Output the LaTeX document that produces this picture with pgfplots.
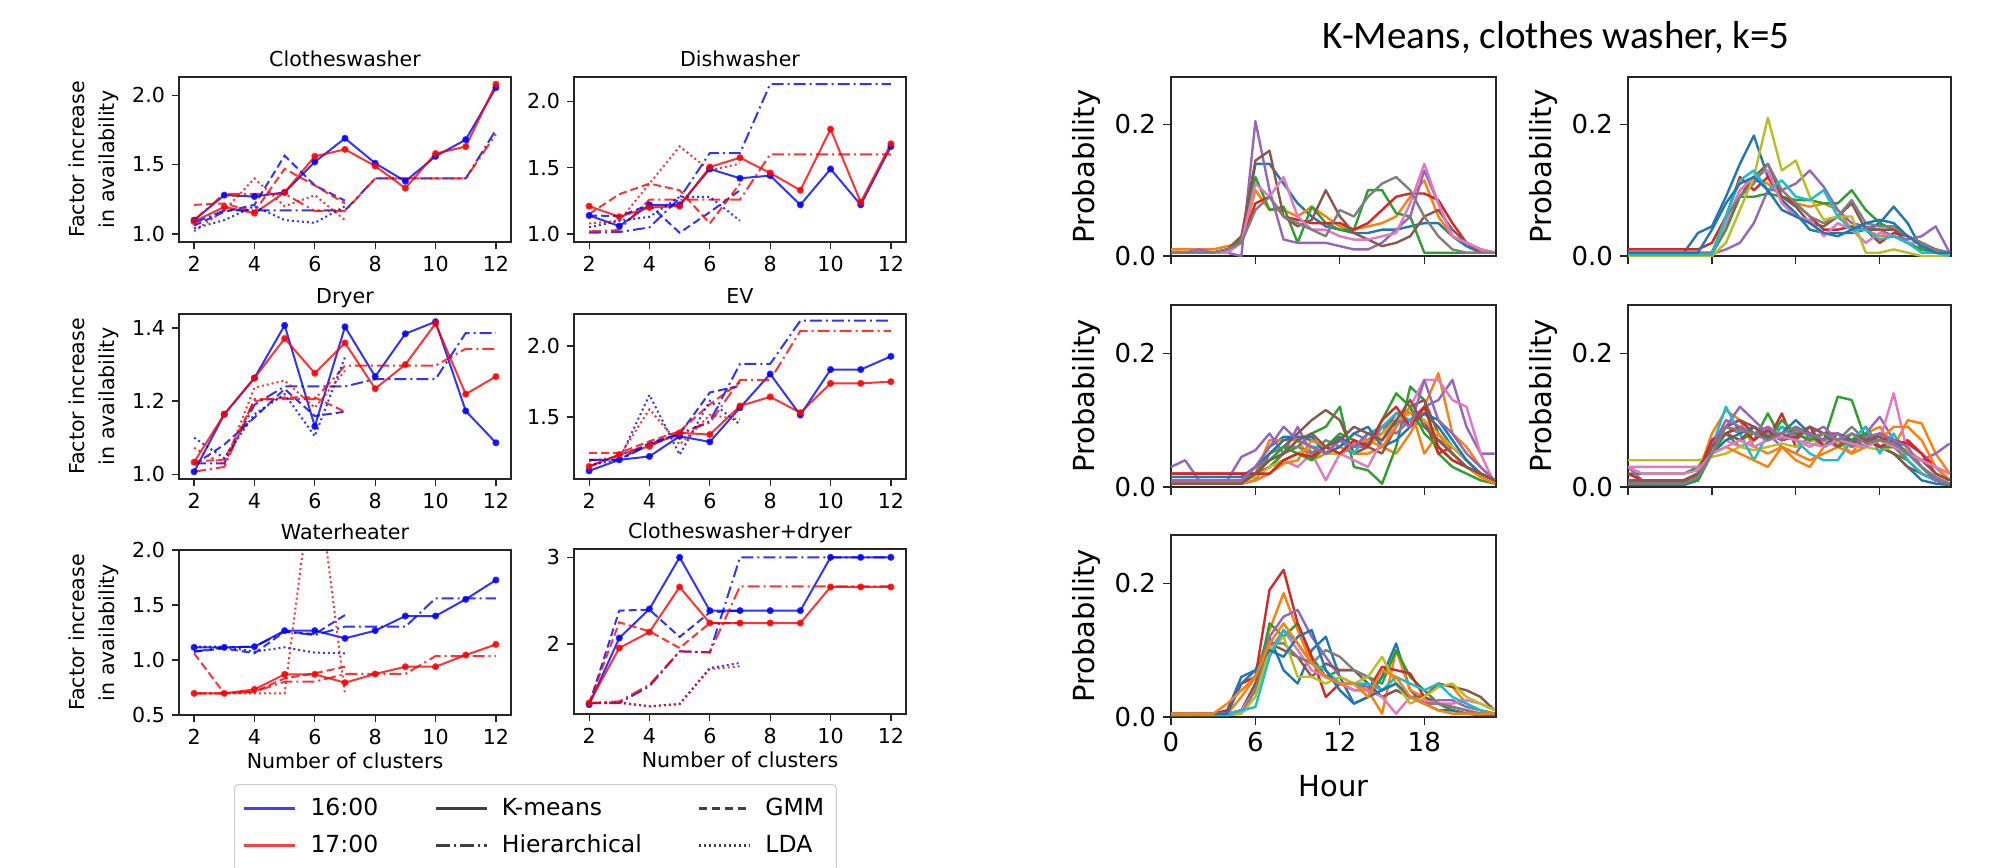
\documentclass[border=0pt]{standalone}
\usepackage{fontspec}
\setmainfont{DejaVu Sans}
\newfontfamily\carlito{Carlito}
\usepackage{pgfplots}
\usepackage{pgfplotstable}
\pgfplotsset{compat=1.18}

\definecolor{tb}{HTML}{1F77B4}
\definecolor{to}{HTML}{FF7F0E}
\definecolor{tg}{HTML}{2CA02C}
\definecolor{tr}{HTML}{D62728}
\definecolor{tp}{HTML}{9467BD}
\definecolor{tbr}{HTML}{8C564B}
\definecolor{tpk}{HTML}{E377C2}
\definecolor{tgy}{HTML}{7F7F7F}
\definecolor{tol}{HTML}{BCBD22}
\definecolor{tc}{HTML}{17BECF}
\pgfplotscreateplotcyclelist{tab}{{tb},{to},{tg},{tr},{tp},{tbr},{tpk},{tgy},{tol},{tc}}

\newcommand\fsz[1]{\fontsize{#1}{#1}\selectfont}

\pgfplotsset{
  mpl/.style={scale only axis, tick align=outside, tick pos=left, major tick length=3.5pt,
    axis line style={black!85, line width=0.6pt}, every tick/.style={black!85, line width=0.6pt},
    /pgf/number format/assume math mode=true},
  lp/.style={mpl, width=166pt, height=82.5pt, xmin=1.5, xmax=12.5, xtick={2,4,...,12},
    tick label style={font=\fsz{10.3}},
    title style={font=\fsz{10.3}, at={(0.5,1)}, anchor=base, yshift=-0.75pt},
    xlabel style={font=\fsz{10.3}, at={(axis description cs:0.5,0)}, anchor=base, yshift=-26.5pt},
    ylabel style={align=center, font=\fontsize{10.3}{15}\selectfont},
    yticklabel style={/pgf/number format/.cd, fixed, fixed zerofill, precision=1}},
  bl/.style={blue, draw opacity=0.8, fill opacity=0.8, line width=1pt},
  rd/.style={red, draw opacity=0.8, fill opacity=0.8, line width=1pt},
  km/.style={solid, mark=*, mark size=1.25pt, mark options={solid}},
  hi/.style={dash pattern=on 6pt off 2pt on 1pt off 2pt},
  gm/.style={dash pattern=on 4pt off 2pt},
  ld/.style={dash pattern=on 1pt off 1.5pt},
  rp/.style={mpl, width=162.5pt, xmin=0, xmax=23.1, ymin=0, ymax=0.272,
    xtick={0,6,12,18}, ytick={0,0.2}, ylabel={Probability}, cycle list name=tab, no markers,
    major tick length=4pt,
    tick label style={font=\fsz{13}}, label style={font=\fsz{14.5}},
    yticklabel style={/pgf/number format/.cd, fixed, fixed zerofill, precision=1},
    every axis plot/.append style={line width=1.2pt, line join=round}},
}

\begin{document}

% cluster profiles, k-means clothes washer, k=5 (hour, one column per household)
\pgfplotstableread{
hr a b c d e f g h
0 .005 .01 .005 .005 .005 .005 .005 .005
1 .005 .01 .005 .005 .005 .005 .005 .005
2 .005 .01 .005 .005 .01 .005 .005 .005
3 .005 .01 .005 .005 .005 .005 .005 .005
4 .01 .015 .01 .01 .005 .01 .005 .01
5 .02 .02 .025 .02 0 .03 .02 .02
6 .14 .10 .12 .08 .205 .145 .11 .07
7 .14 .07 .07 .09 .10 .16 .09 .09
8 .11 .07 .075 .06 .025 .06 .12 .06
9 .08 .06 .02 .055 .02 .045 .06 .05
10 .06 .075 .075 .05 .02 .055 .04 .04
11 .045 .06 .05 .05 .02 .10 .04 .03
12 .04 .045 .04 .05 .015 .06 .03 .07
13 .035 .04 .04 .04 .01 .035 .025 .06
14 .035 .045 .10 .05 .01 .025 .025 .09
15 .04 .05 .10 .07 .02 .015 .03 .11
16 .04 .06 .065 .09 .04 .02 .035 .12
17 .045 .09 .06 .095 .06 .03 .08 .10
18 .05 .115 .005 .095 .13 .06 .14 .06
19 .05 .06 .005 .085 .08 .07 .08 .03
20 .03 .03 .005 .05 .03 .04 .03 .01
21 .015 .02 .005 .02 .02 .02 .02 .005
22 .005 .01 .005 .01 .01 .005 .01 .005
23 .005 .005 .005 .005 .005 .005 .005 .005
}\tRa

\pgfplotstableread{
hr a b c d e f g h i j k
0 .005 .005 .003 .01 .003 .005 .005 .005 0 .002 .005
1 .005 .005 .003 .01 .003 .005 .005 .005 0 .002 .005
2 .005 .005 .003 .01 .003 .005 .005 .005 0 .002 .005
3 .005 .005 .003 .01 .003 .005 .005 .005 0 .002 .005
4 .005 .005 .003 .01 .003 .005 .005 .005 0 .002 .005
5 .035 .005 .003 .01 .003 .005 .005 .005 0 .002 .005
6 .045 .005 .003 .02 .003 .005 .005 .005 0 .002 .04
7 .09 .05 .04 .06 .01 .05 .05 .06 .02 .06 .08
8 .14 .10 .09 .12 .02 .09 .10 .09 .07 .115 .11
9 .183 .115 .09 .10 .05 .12 .12 .11 .12 .13 .12
10 .12 .11 .095 .12 .10 .14 .13 .14 .21 .10 .10
11 .085 .09 .09 .09 .10 .09 .08 .10 .13 .115 .07
12 .065 .08 .085 .08 .11 .075 .06 .08 .145 .09 .06
13 .04 .075 .085 .06 .13 .05 .055 .06 .09 .085 .05
14 .035 .08 .08 .04 .105 .045 .03 .05 .055 .10 .035
15 .035 .07 .08 .04 .07 .06 .05 .06 .06 .06 .03
16 .035 .04 .10 .045 .05 .08 .04 .085 .06 .04 .04
17 .04 .04 .07 .04 .045 .04 .02 .05 .005 .04 .05
18 .05 .03 .05 .02 .04 .04 .035 .045 .005 .025 .055
19 .075 .03 .04 .035 .03 .04 .03 .045 .01 .03 .05
20 .05 .02 .02 .03 .025 .03 .02 .03 .005 .02 .03
21 .01 .01 .01 .02 .03 .02 .02 .02 0 .005 .015
22 .005 .005 .005 .01 .045 .005 .01 .01 0 .005 .005
23 .005 .005 0 .005 .005 .005 .005 .005 0 0 .005
}\tRb

\pgfplotstableread{
hr a b c d e f g h i j k l m n o p
0 .01 .01 .01 .02 .03 .005 .005 .01 .01 .015 .015 .005 .01 .02 .01 .005
1 .01 .01 .01 .02 .04 .005 .005 .01 .01 .015 .015 .005 .01 .02 .01 .005
2 .01 .01 .01 .02 .01 .005 .005 .01 .01 .015 .015 .005 .01 .02 .01 .005
3 .01 .01 .01 .02 .01 .005 .005 .01 .01 .015 .015 .005 .01 .02 .01 .005
4 .01 .01 .01 .02 .01 .005 .005 .01 .01 .015 .015 .005 .01 .02 .01 .005
5 .01 .01 .01 .02 .045 .005 .005 .01 .01 .015 .015 .005 .01 .02 .01 .005
6 .03 .02 .015 .02 .055 .01 .01 .02 .015 .02 .03 .01 .02 .02 .03 .02
7 .06 .07 .03 .03 .08 .05 .02 .05 .03 .04 .05 .02 .04 .02 .06 .04
8 .075 .07 .05 .04 .05 .06 .04 .06 .04 .05 .07 .035 .06 .04 .09 .05
9 .075 .07 .06 .05 .09 .08 .03 .06 .05 .07 .075 .04 .05 .05 .07 .07
10 .07 .04 .08 .06 .05 .10 .05 .05 .06 .06 .075 .07 .04 .045 .06 .08
11 .06 .05 .09 .05 .06 .115 .01 .07 .05 .06 .05 .06 .06 .06 .05 .06
12 .075 .06 .12 .07 .05 .10 .05 .06 .05 .07 .06 .05 .08 .05 .07 .07
13 .06 .05 .03 .06 .06 .05 .04 .08 .07 .05 .08 .065 .07 .07 .06 .09
14 .065 .05 .025 .07 .06 .06 .03 .07 .06 .08 .09 .07 .06 .06 .08 .08
15 .08 .06 .005 .08 .09 .05 .07 .09 .08 .09 .06 .06 .10 .10 .07 .07
16 .095 .05 .06 .11 .08 .09 .09 .10 .10 .11 .07 .09 .14 .12 .10 .10
17 .10 .08 .15 .11 .10 .12 .12 .11 .11 .10 .09 .12 .12 .09 .09 .13
18 .11 .12 .13 .10 .12 .13 .16 .10 .10 .09 .11 .05 .08 .12 .16 .09
19 .09 .17 .05 .05 .13 .08 .16 .07 .08 .07 .10 .08 .06 .06 .10 .07
20 .06 .08 .03 .06 .16 .05 .13 .06 .06 .05 .07 .05 .04 .04 .08 .05
21 .04 .06 .02 .04 .09 .03 .12 .04 .04 .03 .04 .03 .03 .03 .05 .03
22 .02 .03 .01 .02 .05 .02 .05 .02 .02 .02 .02 .015 .02 .02 .03 .02
23 .01 .01 .005 .01 .05 .01 .005 .01 .01 .01 .01 .005 .01 .01 .01 .01
}\tRc

\pgfplotstableread{
hr a b c d e f g h i j k l m n o p q r
0 .005 .01 .02 .01 .03 .005 .03 .01 .04 .005 .003 .005 .005 .02 .005 .01 .03 .005
1 .005 .01 .02 .01 .01 .005 .03 .01 .04 .005 .003 .005 .005 .01 .005 .01 .02 .005
2 .005 .01 .02 .01 .005 .005 .03 .01 .04 .005 .003 .005 .005 .01 .005 .01 .02 .005
3 .005 .01 .02 .01 .005 .005 .03 .01 .04 .005 .003 .005 .005 .01 .005 .01 .02 .005
4 .005 .01 .02 .01 .005 .005 .03 .01 .04 .005 .003 .005 .005 .01 .005 .01 .02 .005
5 .02 .02 .03 .015 .02 .02 .03 .02 .04 .01 .01 .015 .01 .02 .015 .02 .025 .015
6 .06 .08 .06 .06 .06 .07 .05 .07 .045 .06 .05 .05 .05 .07 .06 .06 .05 .05
7 .08 .115 .08 .09 .09 .09 .07 .09 .05 .12 .07 .06 .08 .08 .10 .08 .06 .09
8 .09 .10 .06 .10 .12 .10 .06 .08 .06 .08 .08 .05 .07 .09 .09 .07 .07 .085
9 .08 .06 .07 .08 .10 .09 .07 .09 .055 .04 .09 .04 .08 .07 .08 .09 .06 .08
10 .07 .05 .11 .07 .08 .08 .09 .08 .06 .08 .07 .03 .07 .085 .09 .075 .07 .07
11 .09 .06 .07 .11 .06 .07 .08 .07 .065 .09 .08 .06 .10 .07 .07 .08 .075 .08
12 .08 .04 .08 .06 .05 .09 .07 .08 .06 .07 .10 .05 .08 .075 .085 .07 .07 .09
13 .07 .03 .07 .07 .08 .08 .06 .09 .07 .05 .08 .04 .07 .09 .08 .09 .065 .075
14 .08 .06 .07 .08 .09 .07 .07 .08 .065 .04 .06 .05 .08 .06 .07 .08 .06 .08
15 .07 .07 .135 .08 .07 .06 .06 .07 .065 .04 .08 .06 .06 .07 .08 .06 .07 .07
16 .07 .05 .13 .07 .06 .07 .07 .09 .06 .07 .07 .05 .07 .065 .06 .08 .065 .08
17 .08 .08 .07 .07 .08 .09 .06 .07 .06 .09 .06 .06 .08 .07 .075 .07 .06 .065
18 .06 .09 .06 .08 .105 .06 .07 .07 .055 .05 .08 .07 .06 .06 .08 .075 .07 .07
19 .05 .06 .05 .06 .07 .05 .14 .06 .06 .08 .07 .09 .06 .07 .07 .06 .06 .065
20 .03 .10 .04 .07 .05 .03 .05 .04 .055 .04 .05 .09 .05 .065 .06 .05 .05 .05
21 .01 .095 .02 .05 .04 .02 .03 .02 .04 .02 .03 .07 .03 .05 .03 .04 .04 .03
22 .005 .05 .01 .03 .05 .01 .01 .01 .03 .01 .01 .03 .01 .02 .01 .02 .03 .015
23 .003 .02 .005 .01 .065 .005 .005 .005 .02 .005 .003 .01 .003 .01 .005 .01 .02 .005
}\tRd

\pgfplotstableread{
hr a b c d e f g h i j k l
0 .003 .005 .003 .005 .005 .005 .005 .003 .003 .003 .005 .005
1 .003 .005 .003 .005 .005 .005 .005 .003 .003 .003 .005 .005
2 .003 .005 .003 .005 .005 .005 .005 .003 .003 .003 .005 .005
3 .003 .005 .003 .005 .005 .005 .005 .003 .003 .003 .005 .005
4 .01 .005 .003 .01 .005 .005 .005 .003 .003 .003 .005 .02
5 .06 .03 .01 .05 .01 .01 .01 .005 .005 .01 .05 .04
6 .07 .06 .04 .06 .05 .05 .04 .04 .03 .015 .07 .06
7 .12 .13 .14 .19 .12 .11 .10 .11 .10 .09 .10 .11
8 .07 .185 .12 .22 .15 .10 .13 .11 .12 .13 .09 .14
9 .05 .13 .14 .14 .16 .09 .10 .09 .06 .11 .12 .11
10 .10 .08 .09 .09 .12 .06 .07 .08 .06 .08 .13 .08
11 .12 .06 .06 .03 .09 .08 .06 .10 .05 .07 .07 .06
12 .06 .05 .07 .05 .06 .07 .05 .09 .06 .05 .04 .05
13 .02 .05 .07 .04 .05 .07 .04 .07 .05 .05 .02 .05
14 .03 .04 .06 .04 .045 .05 .04 .06 .06 .05 .03 .03
15 .06 .005 .05 .075 .03 .03 .03 .04 .09 .04 .04 .07
16 .11 .10 .10 .07 .04 .04 .005 .05 .05 .06 .05 .06
17 .04 .04 .06 .065 .03 .03 .03 .03 .02 .05 .03 .03
18 .02 .03 .04 .03 .02 .03 .025 .02 .03 .04 .02 .02
19 .02 .05 .02 .02 .025 .05 .02 .02 .045 .05 .01 .01
20 .01 .045 .01 .015 .025 .045 .02 .015 .05 .03 .01 .005
21 .005 .02 .005 .01 .015 .04 .025 .01 .03 .02 .005 .005
22 .003 .01 .003 .005 .01 .03 .02 .005 .02 .01 .005 .005
23 .003 .005 .003 .005 .005 .01 .01 .003 .01 .005 .003 .005
}\tRe

\begin{tikzpicture}
\useasboundingbox (0,0) rectangle (1002.5pt,-433.5pt);

% ---------------- left: factor increase vs number of clusters ----------------
\begin{axis}[lp, at={(89.5pt,-38.5pt)}, anchor=north west, title={Clotheswasher},
  ylabel={Factor increase\\in availability}, ymin=0.942, ymax=2.132, ytick={1,1.5,2}]
\addplot[bl,km] coordinates {(2,1.10)(3,1.28)(4,1.27)(5,1.30)(6,1.52)(7,1.69)(8,1.51)(9,1.38)(10,1.56)(11,1.68)(12,2.055)};
\addplot[rd,km] coordinates {(2,1.09)(3,1.195)(4,1.15)(5,1.30)(6,1.56)(7,1.61)(8,1.49)(9,1.33)(10,1.58)(11,1.63)(12,2.08)};
\addplot[bl,hi] coordinates {(2,1.08)(3,1.17)(4,1.17)(5,1.17)(6,1.17)(7,1.17)(8,1.40)(9,1.40)(10,1.40)(11,1.40)(12,1.75)};
\addplot[rd,hi] coordinates {(2,1.10)(3,1.29)(4,1.29)(5,1.29)(6,1.165)(7,1.165)(8,1.40)(9,1.40)(10,1.40)(11,1.40)(12,1.72)};
\addplot[bl,gm] coordinates {(2,1.06)(3,1.16)(4,1.21)(5,1.565)(6,1.35)(7,1.24)};
\addplot[rd,gm] coordinates {(2,1.21)(3,1.22)(4,1.16)(5,1.47)(6,1.35)(7,1.22)};
\addplot[bl,ld] coordinates {(2,1.04)(3,1.10)(4,1.20)(5,1.10)(6,1.08)(7,1.20)};
\addplot[rd,ld] coordinates {(2,1.02)(3,1.17)(4,1.40)(5,1.20)(6,1.28)(7,1.10)};
\end{axis}

\begin{axis}[lp, at={(287pt,-38.5pt)}, anchor=north west, title={Dishwasher},
  ymin=0.94, ymax=2.183, ytick={1,1.5,2}]
\addplot[bl,km] coordinates {(2,1.14)(3,1.06)(4,1.22)(5,1.22)(6,1.49)(7,1.42)(8,1.44)(9,1.22)(10,1.49)(11,1.22)(12,1.66)};
\addplot[rd,km] coordinates {(2,1.21)(3,1.13)(4,1.20)(5,1.21)(6,1.505)(7,1.575)(8,1.46)(9,1.33)(10,1.79)(11,1.24)(12,1.68)};
\addplot[bl,hi] coordinates {(2,1.01)(3,1.015)(4,1.05)(5,1.27)(6,1.61)(7,1.61)(8,2.13)(9,2.13)(10,2.13)(11,2.13)(12,2.13)};
\addplot[rd,hi] coordinates {(2,1.02)(3,1.03)(4,1.26)(5,1.26)(6,1.26)(7,1.26)(8,1.60)(9,1.60)(10,1.60)(11,1.60)(12,1.60)};
\addplot[bl,gm] coordinates {(2,1.14)(3,1.135)(4,1.22)(5,1.01)(6,1.165)(7,1.33)};
\addplot[rd,gm] coordinates {(2,1.15)(3,1.30)(4,1.38)(5,1.33)(6,1.08)(7,1.38)};
\addplot[bl,ld] coordinates {(2,1.05)(3,1.10)(4,1.13)(5,1.28)(6,1.28)(7,1.10)};
\addplot[rd,ld] coordinates {(2,1.08)(3,1.10)(4,1.38)(5,1.66)(6,1.48)(7,1.53)};
\end{axis}

\begin{axis}[lp, at={(89.5pt,-157pt)}, anchor=north west, title={Dryer},
  ylabel={Factor increase\\in availability}, ymin=0.987, ymax=1.438, ytick={1,1.2,1.4}]
\addplot[bl,km] coordinates {(2,1.007)(3,1.164)(4,1.263)(5,1.407)(6,1.131)(7,1.403)(8,1.267)(9,1.384)(10,1.417)(11,1.173)(12,1.086)};
\addplot[rd,km] coordinates {(2,1.033)(3,1.164)(4,1.263)(5,1.371)(6,1.276)(7,1.359)(8,1.234)(9,1.30)(10,1.412)(11,1.219)(12,1.267)};
\addplot[bl,hi] coordinates {(2,1.03)(3,1.03)(4,1.19)(5,1.24)(6,1.24)(7,1.24)(8,1.26)(9,1.26)(10,1.26)(11,1.386)(12,1.386)};
\addplot[rd,hi] coordinates {(2,1.007)(3,1.02)(4,1.205)(5,1.205)(6,1.205)(7,1.297)(8,1.297)(9,1.297)(10,1.297)(11,1.343)(12,1.343)};
\addplot[bl,gm] coordinates {(2,1.026)(3,1.081)(4,1.155)(5,1.233)(6,1.159)(7,1.171)};
\addplot[rd,gm] coordinates {(2,1.035)(3,1.04)(4,1.20)(5,1.21)(6,1.21)(7,1.171)};
\addplot[bl,ld] coordinates {(2,1.10)(3,1.044)(4,1.164)(5,1.219)(6,1.104)(7,1.32)};
\addplot[rd,ld] coordinates {(2,1.072)(3,1.026)(4,1.237)(5,1.256)(6,1.182)(7,1.283)};
\end{axis}

\begin{axis}[lp, at={(287pt,-157pt)}, anchor=north west, title={EV},
  ymin=1.064, ymax=2.225, ytick={1.5,2}]
\addplot[bl,km] coordinates {(2,1.121)(3,1.199)(4,1.223)(5,1.365)(6,1.325)(7,1.566)(8,1.803)(9,1.514)(10,1.834)(11,1.834)(12,1.927)};
\addplot[rd,km] coordinates {(2,1.152)(3,1.235)(4,1.294)(5,1.389)(6,1.377)(7,1.578)(8,1.642)(9,1.531)(10,1.737)(11,1.737)(12,1.749)};
\addplot[bl,hi] coordinates {(2,1.199)(3,1.199)(4,1.306)(5,1.377)(6,1.47)(7,1.874)(8,1.874)(9,2.178)(10,2.178)(11,2.178)(12,2.178)};
\addplot[rd,hi] coordinates {(2,1.152)(3,1.235)(4,1.306)(5,1.389)(6,1.46)(7,1.761)(8,1.761)(9,2.107)(10,2.107)(11,2.107)(12,2.107)};
\addplot[bl,gm] coordinates {(2,1.199)(3,1.20)(4,1.318)(5,1.38)(6,1.673)(7,1.72)};
\addplot[rd,gm] coordinates {(2,1.247)(3,1.247)(4,1.33)(5,1.40)(6,1.59)(7,1.744)};
\addplot[bl,ld] coordinates {(2,1.16)(3,1.20)(4,1.656)(5,1.235)(6,1.614)(7,1.448)};
\addplot[rd,ld] coordinates {(2,1.19)(3,1.223)(4,1.555)(5,1.306)(6,1.514)(7,1.483)};
\end{axis}

\begin{axis}[lp, at={(89.5pt,-275pt)}, anchor=north west, title={Waterheater},
  ylabel={Factor increase\\in availability}, xlabel={Number of clusters},
  ymin=0.5, ymax=2.0, ytick={0.5,1,1.5,2}]
\addplot[bl,km] coordinates {(2,1.115)(3,1.115)(4,1.121)(5,1.267)(6,1.267)(7,1.197)(8,1.267)(9,1.40)(10,1.40)(11,1.552)(12,1.727)};
\addplot[rd,km] coordinates {(2,0.697)(3,0.697)(4,0.733)(5,0.870)(6,0.870)(7,0.794)(8,0.873)(9,0.939)(10,0.939)(11,1.045)(12,1.142)};
\addplot[bl,hi] coordinates {(2,1.076)(3,1.115)(4,1.121)(5,1.258)(6,1.227)(7,1.303)(8,1.303)(9,1.303)(10,1.561)(11,1.561)(12,1.561)};
\addplot[rd,hi] coordinates {(2,0.697)(3,0.697)(4,0.712)(5,0.803)(6,0.803)(7,0.873)(8,0.873)(9,0.873)(10,1.036)(11,1.036)(12,1.036)};
\addplot[bl,gm] coordinates {(2,1.076)(3,1.106)(4,1.061)(5,1.258)(6,1.236)(7,1.409)};
\addplot[rd,gm] coordinates {(2,1.061)(3,0.697)(4,0.712)(5,0.833)(6,0.879)(7,0.939)};
\addplot[bl,ld] coordinates {(2,1.121)(3,1.121)(4,1.076)(5,1.115)(6,1.067)(7,1.061)};
\addplot[rd,ld] coordinates {(2,0.697)(3,0.697)(4,0.697)(5,0.697)(6,2.85)(7,0.69)};
\end{axis}

\begin{axis}[lp, at={(287pt,-274.5pt)}, anchor=north west, title={Clotheswasher+dryer},
  xlabel={Number of clusters}, ymin=1.192, ymax=3.096, ytick={2,3},
  yticklabel style={/pgf/number format/precision=0}]
\addplot[bl,km] coordinates {(2,1.30)(3,2.069)(4,2.404)(5,3.0)(6,2.385)(7,2.385)(8,2.385)(9,2.385)(10,3.0)(11,3.0)(12,3.0)};
\addplot[rd,km] coordinates {(2,1.319)(3,1.954)(4,2.138)(5,2.658)(6,2.242)(7,2.242)(8,2.242)(9,2.242)(10,2.658)(11,2.658)(12,2.658)};
\addplot[bl,hi] coordinates {(2,1.319)(3,1.319)(4,1.512)(5,1.915)(6,1.904)(7,3.0)(8,3.0)(9,3.0)(10,3.0)(11,3.0)(12,3.0)};
\addplot[rd,hi] coordinates {(2,1.319)(3,1.338)(4,1.531)(5,1.915)(6,1.904)(7,2.665)(8,2.665)(9,2.665)(10,2.665)(11,2.665)(12,2.665)};
\addplot[bl,gm] coordinates {(2,1.30)(3,2.385)(4,2.396)(5,2.081)(6,2.365)(7,2.385)};
\addplot[rd,gm] coordinates {(2,1.319)(3,2.25)(4,2.146)(5,1.954)(6,2.242)(7,2.242)};
\addplot[bl,ld] coordinates {(2,1.319)(3,1.327)(4,1.281)(5,1.308)(6,1.723)(7,1.781)};
\addplot[rd,ld] coordinates {(2,1.319)(3,1.319)(4,1.281)(5,1.308)(6,1.712)(7,1.742)};
\end{axis}

% legend
\begin{axis}[at={(117pt,-392pt)}, anchor=north west, scale only axis, width=10pt, height=10pt,
  hide axis, xmin=0, xmax=1, ymin=0, ymax=1,
  legend columns=3, legend cell align=left,
  legend image code/.code={\draw[#1] (0pt,0pt) -- (25.5pt,0pt);},
  legend style={at={(0,1)}, anchor=north west, draw=black!20, rounded corners=2pt,
    line width=0.5pt, font=\fsz{11.75}, inner xsep=4pt, inner ysep=5pt, row sep=4pt,
    /tikz/every odd column/.append style={column sep=5pt},
    /tikz/every even column/.append style={column sep=26pt}}]
\addlegendimage{blue, draw opacity=0.75, line width=1.5pt}
\addlegendentry{16:00}
\addlegendimage{black!75, line width=1.3pt}
\addlegendentry{K-means}
\addlegendimage{black!75, line width=1.3pt, dash pattern=on 4pt off 2.5pt}
\addlegendentry{GMM}
\addlegendimage{red, draw opacity=0.75, line width=1.5pt}
\addlegendentry{17:00}
\addlegendimage{black!75, line width=1.3pt, dash pattern=on 7pt off 2pt on 1pt off 2pt}
\addlegendentry{Hierarchical}
\addlegendimage{black!75, line width=1.3pt, dash pattern=on 1pt off 1.5pt}
\addlegendentry{LDA}
\end{axis}

% ---------------- right: hourly usage profiles ----------------
\node[font=\carlito\fontsize{19.5}{22}\selectfont, anchor=base] at (778pt,-24pt) {K-Means, clothes washer, k=5};

\begin{axis}[rp, height=89.5pt, at={(585.5pt,-38.5pt)}, anchor=north west, xticklabels={}]
\pgfplotsinvokeforeach{a,b,c,d,e,f,g,h}{\addplot table[x=hr,y=#1]{\tRa};}
\end{axis}

\begin{axis}[rp, width=161.5pt, height=89.5pt, at={(814pt,-38.5pt)}, anchor=north west, xticklabels={}]
\pgfplotsinvokeforeach{a,b,c,d,e,f,g,h,i,j,k}{\addplot table[x=hr,y=#1]{\tRb};}
\end{axis}

\begin{axis}[rp, height=91pt, at={(585.5pt,-152.5pt)}, anchor=north west, xticklabels={}]
\pgfplotsinvokeforeach{a,b,c,d,e,f,g,h,i,j,k,l,m,n,o,p}{\addplot table[x=hr,y=#1]{\tRc};}
\end{axis}

\begin{axis}[rp, width=161.5pt, height=91pt, at={(814pt,-152.5pt)}, anchor=north west, xticklabels={}]
\pgfplotsinvokeforeach{a,b,c,d,e,f,g,h,i,j,k,l,m,n,o,p,q,r}{\addplot table[x=hr,y=#1]{\tRd};}
\end{axis}

\begin{axis}[rp, height=91pt, at={(585.5pt,-267.5pt)}, anchor=north west, xlabel={Hour},
  xlabel style={at={(axis description cs:0.5,0)}, anchor=base, yshift=-39.5pt}]
\pgfplotsinvokeforeach{a,b,c,d,e,f,g,h,i,j,k,l}{\addplot table[x=hr,y=#1]{\tRe};}
\end{axis}

\end{tikzpicture}
\end{document}
